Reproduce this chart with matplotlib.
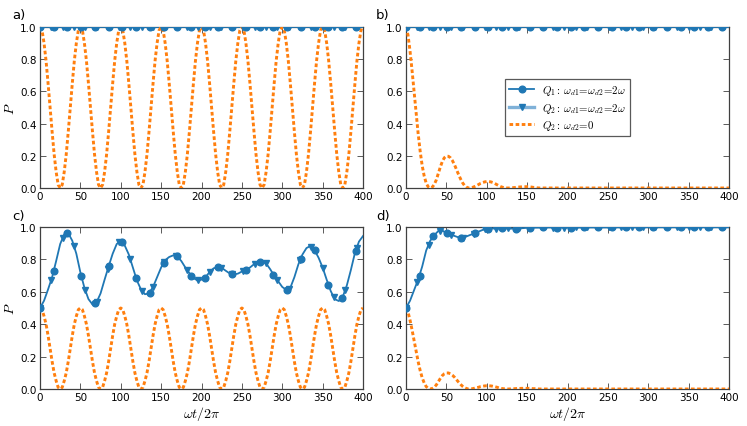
import numpy as np
import matplotlib
matplotlib.use("Agg")
import matplotlib.pyplot as plt
from matplotlib.lines import Line2D

plt.rcParams['mathtext.fontset'] = 'cm'
plt.rcParams['font.family'] = ['DejaVu Sans']

BLUE = '#1f77b4'
ORANGE = '#ff7f0e'

# ---------------- data ----------------
# time grids
t_fine = np.arange(0, 400.1, 2.5)           # orange curves a, c
t_decay = np.append(np.arange(0, 200.1, 2.5), 400)  # orange curves b, d
t_c_line = np.arange(0, 400.1, 5)
t_d_line = np.append(np.arange(0, 150.1, 5), np.arange(175, 400.1, 25))
t_q1_marks = np.arange(0, 400, 17)          # circle markers
t_q2_marks = np.arange(0, 400, 14)          # triangle markers
t_flat = [0, 400]

# panel a: Q2 with w_d2 = 0
orange_a = [
    1.00, 0.98, 0.90, 0.79, 0.65, 0.50, 0.35, 0.21, 0.10, 0.02, 0.00, 0.02, 0.10, 0.21, 0.35, 0.50, 0.65, 0.79, 0.90, 0.98,
    1.00, 0.98, 0.90, 0.79, 0.65, 0.50, 0.35, 0.21, 0.10, 0.02, 0.00, 0.02, 0.10, 0.21, 0.35, 0.50, 0.65, 0.79, 0.90, 0.98,
    1.00, 0.98, 0.90, 0.79, 0.65, 0.50, 0.35, 0.21, 0.10, 0.02, 0.00, 0.02, 0.10, 0.21, 0.35, 0.50, 0.65, 0.79, 0.90, 0.98,
    1.00, 0.98, 0.90, 0.79, 0.65, 0.50, 0.35, 0.21, 0.10, 0.02, 0.00, 0.02, 0.10, 0.21, 0.35, 0.50, 0.65, 0.79, 0.90, 0.98,
    1.00, 0.98, 0.90, 0.79, 0.65, 0.50, 0.35, 0.21, 0.10, 0.02, 0.00, 0.02, 0.10, 0.21, 0.35, 0.50, 0.65, 0.79, 0.90, 0.98,
    1.00, 0.98, 0.90, 0.79, 0.65, 0.50, 0.35, 0.21, 0.10, 0.02, 0.00, 0.02, 0.10, 0.21, 0.35, 0.50, 0.65, 0.79, 0.90, 0.98,
    1.00, 0.98, 0.90, 0.79, 0.65, 0.50, 0.35, 0.21, 0.10, 0.02, 0.00, 0.02, 0.10, 0.21, 0.35, 0.50, 0.65, 0.79, 0.90, 0.98,
    1.00, 0.98, 0.90, 0.79, 0.65, 0.50, 0.35, 0.21, 0.10, 0.02, 0.00, 0.02, 0.10, 0.21, 0.35, 0.50, 0.65, 0.79, 0.90, 0.98,
    1.00]

# panel c: Q2 with w_d2 = 0
orange_c = [
    0.50, 0.49, 0.45, 0.40, 0.33, 0.25, 0.17, 0.10, 0.05, 0.01, 0.00, 0.01, 0.05, 0.10, 0.17, 0.25, 0.33, 0.40, 0.45, 0.49,
    0.50, 0.49, 0.45, 0.40, 0.33, 0.25, 0.17, 0.10, 0.05, 0.01, 0.00, 0.01, 0.05, 0.10, 0.17, 0.25, 0.33, 0.40, 0.45, 0.49,
    0.50, 0.49, 0.45, 0.40, 0.33, 0.25, 0.17, 0.10, 0.05, 0.01, 0.00, 0.01, 0.05, 0.10, 0.17, 0.25, 0.33, 0.40, 0.45, 0.49,
    0.50, 0.49, 0.45, 0.40, 0.33, 0.25, 0.17, 0.10, 0.05, 0.01, 0.00, 0.01, 0.05, 0.10, 0.17, 0.25, 0.33, 0.40, 0.45, 0.49,
    0.50, 0.49, 0.45, 0.40, 0.33, 0.25, 0.17, 0.10, 0.05, 0.01, 0.00, 0.01, 0.05, 0.10, 0.17, 0.25, 0.33, 0.40, 0.45, 0.49,
    0.50, 0.49, 0.45, 0.40, 0.33, 0.25, 0.17, 0.10, 0.05, 0.01, 0.00, 0.01, 0.05, 0.10, 0.17, 0.25, 0.33, 0.40, 0.45, 0.49,
    0.50, 0.49, 0.45, 0.40, 0.33, 0.25, 0.17, 0.10, 0.05, 0.01, 0.00, 0.01, 0.05, 0.10, 0.17, 0.25, 0.33, 0.40, 0.45, 0.49,
    0.50, 0.49, 0.45, 0.40, 0.33, 0.25, 0.17, 0.10, 0.05, 0.01, 0.00, 0.01, 0.05, 0.10, 0.17, 0.25, 0.33, 0.40, 0.45, 0.49,
    0.50]

# panel b: Q2 with w_d2 = 0 (decaying)
orange_b = [
    1.00, 0.95, 0.85, 0.73, 0.60, 0.47, 0.34, 0.23, 0.14, 0.075,
    0.03, 0.007, 0.0, 0.005, 0.022, 0.05, 0.09, 0.13, 0.165, 0.188,
    0.198, 0.197, 0.188, 0.17, 0.145, 0.115, 0.085, 0.057, 0.033, 0.015,
    0.005, 0.0, 0.001, 0.004, 0.009, 0.015, 0.022, 0.029, 0.034, 0.038,
    0.04, 0.04, 0.038, 0.034, 0.028, 0.021, 0.014, 0.008, 0.004, 0.001,
    0.0, 0.0, 0.001, 0.002, 0.003, 0.005, 0.006, 0.007, 0.008, 0.008,
    0.008, 0.007, 0.006, 0.004, 0.003, 0.001, 0.0, 0.0, 0.0, 0.0,
    0.0, 0.0, 0.0, 0.0, 0.0, 0.0, 0.0, 0.0, 0.0, 0.0,
    0.0, 0.0]

# panel d: Q2 with w_d2 = 0 (decaying)
orange_d = [
    0.50, 0.475, 0.425, 0.365, 0.30, 0.235, 0.17, 0.115, 0.07, 0.038,
    0.015, 0.004, 0.0, 0.003, 0.011, 0.025, 0.045, 0.065, 0.083, 0.094,
    0.099, 0.099, 0.094, 0.085, 0.073, 0.058, 0.043, 0.029, 0.017, 0.008,
    0.003, 0.0, 0.001, 0.002, 0.005, 0.008, 0.011, 0.015, 0.017, 0.019,
    0.02, 0.02, 0.019, 0.017, 0.014, 0.011, 0.007, 0.004, 0.002, 0.001,
    0.0, 0.0, 0.001, 0.001, 0.002, 0.003, 0.003, 0.004, 0.004, 0.004,
    0.004, 0.004, 0.003, 0.002, 0.002, 0.001, 0.0, 0.0, 0.0, 0.0,
    0.0, 0.0, 0.0, 0.0, 0.0, 0.0, 0.0, 0.0, 0.0, 0.0,
    0.0, 0.0]

# panels a, b: Q1 and Q2 stay at 1
blue_flat = [1.0, 1.0]
q1_marks_flat = [1.0, 1.0, 1.0, 1.0, 1.0, 1.0, 1.0, 1.0, 1.0, 1.0, 1.0, 1.0,
                 1.0, 1.0, 1.0, 1.0, 1.0, 1.0, 1.0, 1.0, 1.0, 1.0, 1.0, 1.0]
q2_marks_flat = [1.0, 1.0, 1.0, 1.0, 1.0, 1.0, 1.0, 1.0, 1.0, 1.0, 1.0, 1.0, 1.0, 1.0, 1.0,
                 1.0, 1.0, 1.0, 1.0, 1.0, 1.0, 1.0, 1.0, 1.0, 1.0, 1.0, 1.0, 1.0, 1.0]

# panel c: Q1 / Q2 with w_d1 = w_d2 = 2w
blue_c = [0.50, 0.545, 0.615, 0.69, 0.79, 0.895, 0.955, 0.962, 0.915, 0.835,
          0.72, 0.625, 0.555, 0.522, 0.535, 0.59, 0.675, 0.757, 0.835, 0.895,
          0.914, 0.885, 0.83, 0.75, 0.67, 0.615, 0.585, 0.59, 0.63, 0.69,
          0.75, 0.795, 0.815, 0.825, 0.818, 0.79, 0.75, 0.715, 0.685, 0.67,
          0.675, 0.69, 0.722, 0.745, 0.753, 0.748, 0.73, 0.713, 0.708, 0.712,
          0.725, 0.735, 0.75, 0.77, 0.783, 0.785, 0.775, 0.74, 0.70, 0.665,
          0.63, 0.612, 0.625, 0.69, 0.77, 0.83, 0.87, 0.883, 0.857, 0.81,
          0.75, 0.675, 0.605, 0.555, 0.543, 0.57, 0.64, 0.735, 0.84, 0.91,
          0.944]
q1_marks_c = [0.50, 0.728, 0.961, 0.70, 0.53, 0.757, 0.905, 0.683, 0.592, 0.775,
              0.818, 0.70, 0.687, 0.752, 0.709, 0.735, 0.784, 0.705, 0.613, 0.80,
              0.857, 0.645, 0.563, 0.854]
q2_marks_c = [0.50, 0.675, 0.935, 0.883, 0.61, 0.535, 0.742, 0.905, 0.80, 0.607,
              0.63, 0.786, 0.822, 0.737, 0.671, 0.722, 0.749, 0.709, 0.729, 0.773,
              0.775, 0.672, 0.617, 0.794, 0.879, 0.75, 0.565, 0.612, 0.868]

# panel d: Q1 / Q2 with w_d1 = w_d2 = 2w
blue_d = [0.50, 0.545, 0.61, 0.675, 0.755, 0.855, 0.915, 0.95, 0.975, 0.978,
          0.963, 0.954, 0.945, 0.936, 0.935, 0.942, 0.952, 0.96, 0.972, 0.982,
          0.987, 0.99, 0.991, 0.992, 0.992, 0.991, 0.99, 0.99, 0.991, 0.993,
          0.995, 0.997, 0.996, 0.997, 0.997, 0.998, 0.998, 0.998, 0.998, 0.998,
          0.998]
q1_marks_d = [0.50, 0.70, 0.942, 0.962, 0.934, 0.96, 0.987, 0.992, 0.99, 0.995,
              0.997, 0.996, 0.995, 0.997, 0.997, 0.997, 0.998, 0.997, 0.998, 0.998,
              0.998, 0.998, 0.998, 0.998]
q2_marks_d = [0.50, 0.66, 0.89, 0.978, 0.952, 0.935, 0.958, 0.985, 0.99, 0.991,
              0.991, 0.995, 0.997, 0.996, 0.996, 0.997, 0.997, 0.997, 0.997, 0.998,
              0.998, 0.997, 0.998, 0.998, 0.998, 0.998, 0.998, 0.998, 0.998]

x_ticks = [0, 50, 100, 150, 200, 250, 300, 350, 400]
y_ticks = [0.0, 0.2, 0.4, 0.6, 0.8, 1.0]
labels = [r'$Q_1:\,\omega_{d1}\!=\!\omega_{d2}\!=\!2\omega$',
          r'$Q_2:\,\omega_{d1}\!=\!\omega_{d2}\!=\!2\omega$',
          r'$Q_2:\,\omega_{d2}\!=\!0$']

# ---------------- figure ----------------
W, H = 747, 427
fig = plt.figure(figsize=(W / 100, H / 100), dpi=100)


def rect(x0, y0, x1, y1):
    return [x0 / W, 1 - y1 / H, (x1 - x0) / W, (y1 - y0) / H]


axA = fig.add_axes(rect(40, 28, 363, 189))
axB = fig.add_axes(rect(406, 28, 729, 189))
axC = fig.add_axes(rect(40, 228, 363, 390))
axD = fig.add_axes(rect(406, 228, 729, 390))

MS = 4.8
DASH = (0, (1.25, 0.85))
OLW = 2.1
BLW = 1.3


def draw(ax, tl, yl, y1m, y2m, to, yo):
    ax.plot(tl, yl, '-', color=BLUE, lw=BLW, zorder=3)
    ax.plot(t_q1_marks, y1m, 'o', color=BLUE, ms=MS, mec=BLUE, zorder=4)
    ax.plot(t_q2_marks, y2m, 'v', color=BLUE, ms=MS, mec=BLUE, zorder=4)
    ax.plot(to, yo, color=ORANGE, lw=OLW, linestyle=DASH,
            dash_capstyle='butt', zorder=3)
    ax.set_xlim(0, 400)
    ax.set_ylim(0, 1.0)
    ax.set_xticks(x_ticks)
    ax.set_yticks(y_ticks)
    ax.set_yticklabels(['%.1f' % v for v in y_ticks])
    ax.tick_params(direction='in', top=True, right=True, length=4,
                   width=0.6, labelsize=7.5, pad=2.5, color='0.25')
    for s in ax.spines.values():
        s.set_color('0.25')
        s.set_linewidth(0.9)


draw(axA, t_flat, blue_flat, q1_marks_flat, q2_marks_flat, t_fine, orange_a)
draw(axB, t_flat, blue_flat, q1_marks_flat, q2_marks_flat, t_decay, orange_b)
draw(axC, t_c_line, blue_c, q1_marks_c, q2_marks_c, t_fine, orange_c)
draw(axD, t_d_line, blue_d, q1_marks_d, q2_marks_d, t_decay, orange_d)

for ax in (axA, axC):
    ax.set_ylabel(r'$P$', fontsize=10, labelpad=2)
for ax in (axC, axD):
    ax.set_xlabel(r'$\omega t/2\pi$', fontsize=10, labelpad=1)

handles = [
    Line2D([], [], color=BLUE, lw=BLW, marker='o', ms=MS),
    Line2D([], [], color='#7fb1d8', lw=2.4, marker='v', ms=MS,
           mfc=BLUE, mec=BLUE),
    Line2D([], [], color=ORANGE, lw=OLW, linestyle=DASH, dash_capstyle='butt'),
]
leg = axB.legend(handles, labels, loc='center', fontsize=7.8, frameon=True,
                 fancybox=False, edgecolor='0.35', framealpha=1,
                 handlelength=2.3, borderpad=0.4, labelspacing=0.3,
                 handletextpad=0.7, borderaxespad=0)
leg.get_frame().set_linewidth(0.9)

fig.text(12 / W, 1 - 16 / H, 'a)', fontsize=9.5, va='center', ha='left')
fig.text(376 / W, 1 - 16 / H, 'b)', fontsize=9.5, va='center', ha='left')
fig.text(12 / W, 1 - 217 / H, 'c)', fontsize=9.5, va='center', ha='left')
fig.text(376 / W, 1 - 217 / H, 'd)', fontsize=9.5, va='center', ha='left')

fig.savefig('out.png', dpi=100)
